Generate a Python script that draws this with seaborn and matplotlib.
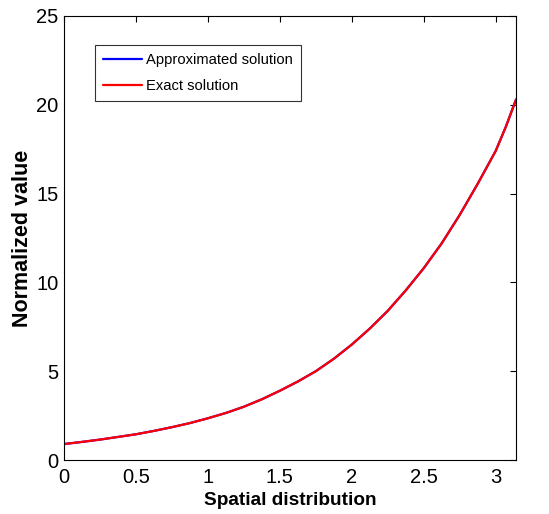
import numpy as np
import pandas as pd
import matplotlib
matplotlib.use("Agg")
import matplotlib.pyplot as plt
import seaborn as sns

x_vals = [0.0, 0.125, 0.25, 0.375, 0.5, 0.625, 0.75, 0.875, 1.0, 1.125, 1.25, 1.375,
          1.5, 1.625, 1.75, 1.875, 2.0, 2.125, 2.25, 2.375, 2.5, 2.625, 2.75, 2.875,
          3.0, 3.07, 3.1416]
approx_vals = [0.9, 1.02, 1.15, 1.3, 1.45, 1.64, 1.85, 2.08, 2.35, 2.65, 3.0, 3.42,
               3.9, 4.42, 5.0, 5.7, 6.5, 7.4, 8.4, 9.55, 10.8, 12.2, 13.8, 15.55,
               17.4, 18.75, 20.3]
exact_vals = [0.9, 1.02, 1.15, 1.3, 1.45, 1.64, 1.85, 2.08, 2.35, 2.65, 3.0, 3.42,
              3.9, 4.42, 5.0, 5.7, 6.5, 7.4, 8.4, 9.55, 10.8, 12.2, 13.8, 15.55,
              17.4, 18.75, 20.3]
series_names = ["Approximated solution", "Exact solution"]
x_ticks = [0, 0.5, 1, 1.5, 2, 2.5, 3]
y_ticks = [0, 5, 10, 15, 20, 25]

sns.set_style("white")
plt.rcParams['font.family'] = ['Liberation Sans', 'DejaVu Sans']

df = pd.DataFrame({
    "x": x_vals * 2,
    "y": approx_vals + exact_vals,
    "series": [series_names[0]] * len(x_vals) + [series_names[1]] * len(x_vals),
})

fig = plt.figure(figsize=(5.49, 5.14), dpi=100)
ax = fig.add_axes([0.1166, 0.105, 0.8234, 0.864])
sns.lineplot(data=df, x="x", y="y", hue="series", palette=["#0000ff", "#ff0000"],
             ax=ax, linewidth=1.6, sort=True)

ax.set_xlim(0, np.pi)
ax.set_ylim(0, 25)
ax.set_xticks(x_ticks)
ax.set_xticklabels([f"{t:g}" for t in x_ticks])
ax.set_yticks(y_ticks)
ax.tick_params(direction="in", top=True, right=True, length=4.5, width=0.8,
               labelsize=14.5, colors="black", labelcolor="black")
ax.tick_params(axis="x", pad=6)
ax.tick_params(axis="y", pad=4)
for s in ax.spines.values():
    s.set_color("black")
    s.set_linewidth(0.8)
ax.set_xlabel("Spatial distribution", fontsize=13.7, fontweight="bold", labelpad=3,
              color="black")
ax.set_ylabel("Normalized value", fontsize=15.5, fontweight="bold", labelpad=2,
              color="black")

leg = ax.legend(loc="upper left", bbox_to_anchor=(0.0686, 0.9347), borderaxespad=0,
                fontsize=10.6, frameon=True, fancybox=False, edgecolor="black",
                handlelength=2.65, handletextpad=0.27, borderpad=0.55, labelspacing=0.8)
leg.get_frame().set_linewidth(0.8)
for t in leg.get_texts():
    t.set_color("black")

fig.savefig("out.png", dpi=100)
